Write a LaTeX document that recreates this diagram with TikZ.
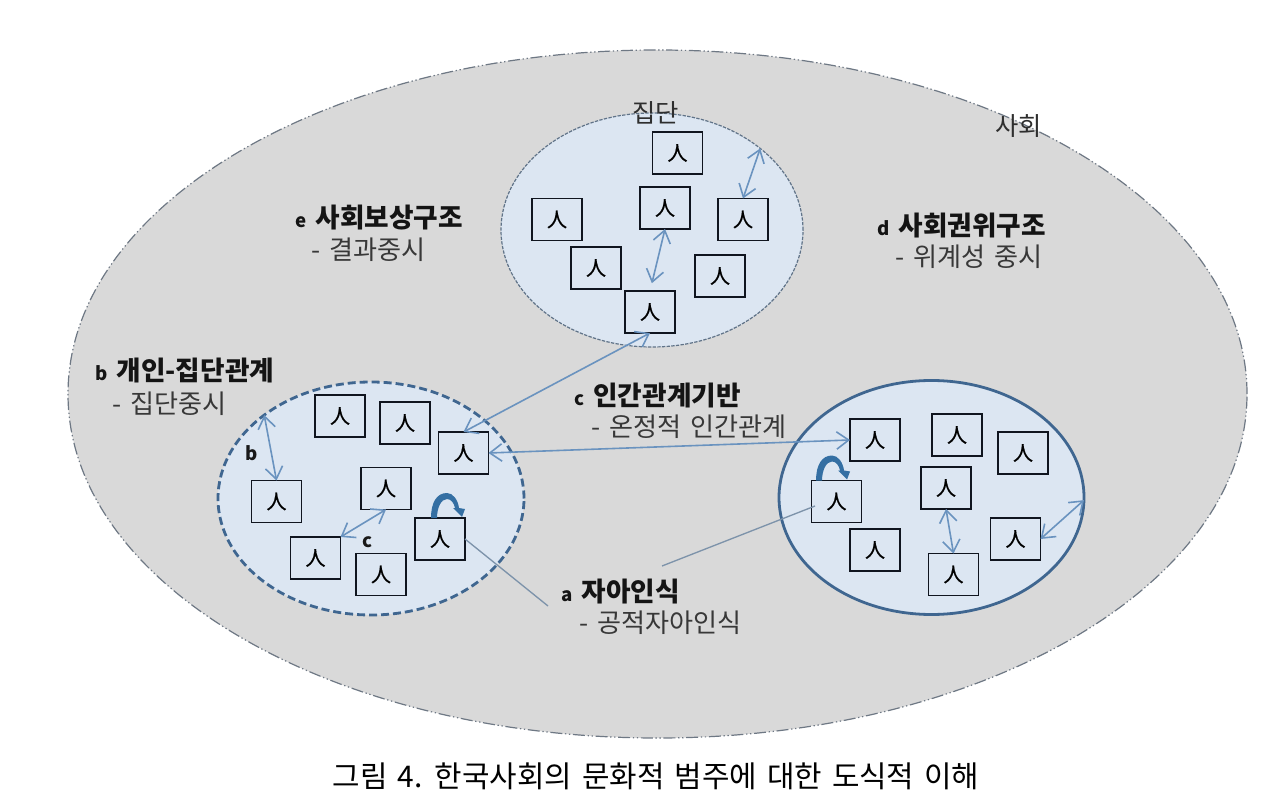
\documentclass[tikz,border=0pt]{standalone}
\usepackage{fontspec}
\setmainfont{Noto Sans CJK KR}[WordSpace=1.5]
\newfontfamily\personfont{Noto Sans CJK KR}[FakeBold=0.7]
\usetikzlibrary{shapes.geometric,arrows.meta}
\definecolor{societyfill}{HTML}{D9D9D9}
\definecolor{societyline}{HTML}{6E7884}
\definecolor{groupfill}{HTML}{DCE6F2}
\definecolor{groupline}{HTML}{3F6690}
\definecolor{linkblue}{HTML}{6A93BF}
\definecolor{leader}{HTML}{7D93AA}
\definecolor{loopblue}{HTML}{346FA3}
\definecolor{boxline}{HTML}{10151F}
\tikzset{
  x=0.75pt,y=-0.75pt,
  society/.style={ellipse,fill=societyfill,draw=societyline,line width=0.9pt,dash pattern=on 9pt off 2pt on 1pt off 2pt on 1pt off 2pt,minimum width=884.25pt,minimum height=516pt,inner sep=0pt,outer sep=0pt},
  group/.style={ellipse,fill=groupfill,inner sep=0pt,outer sep=0pt},
  person/.style={draw=boxline,line width=1.05pt,minimum width=37.5pt,minimum height=31.5pt,inner sep=0pt,outer sep=0pt,font=\personfont\fontsize{15}{15}\selectfont,text=black},
  link/.style={draw=linkblue,line width=1.2pt,{Straight Barb[length=9pt,width=13pt,line width=1.2pt]}-{Straight Barb[length=9pt,width=13pt,line width=1.2pt]}},
  leaderline/.style={draw=leader,line width=1pt},
  head/.style={anchor=base west,inner sep=0pt,text=black!92,font=\fontsize{20}{20}\selectfont\bfseries},
  sub/.style={anchor=base west,inner sep=0pt,text=black!78,font=\fontsize{19.6}{20}\selectfont},
  tag/.style={anchor=base,inner sep=0pt,text=black!82,font=\fontsize{19}{19}\selectfont},
  minor/.style={anchor=base,inner sep=0pt,text=black!90,font=\fontsize{14}{14}\selectfont\bfseries},
}
\newcommand{\pfx}[1]{{\fontsize{14}{14}\selectfont #1}}
\newcommand{\selfmark}{\fill[loopblue] (-9,0) .. controls (-9,-16) and (-3,-25) .. (7,-25) .. controls (13,-25) and (18,-18) .. (19,-10) -- (25,-9) -- (22,-1) -- (13,-10) -- (15,-10) .. controls (14,-15) and (11,-19) .. (7,-19) .. controls (1,-19) and (-3,-10) .. (-3,0) -- cycle;}
\begin{document}
\begin{tikzpicture}
\useasboundingbox (0,0) rectangle (1280,812);
\node[society] (soc) at (657.5,394) {};
% groups
\node[group,draw=societyline!70!groupline,line width=0.9pt,dash pattern=on 2.5pt off 1pt,minimum width=226.5pt,minimum height=175.5pt] (gt) at (652,230) {};
\node[group,draw=groupline,line width=2.1pt,dash pattern=on 6pt off 3pt,minimum width=229.5pt,minimum height=174.75pt] (gl) at (371,498.5) {};
\node[group,draw=groupline,line width=2.1pt,minimum width=228.75pt,minimum height=175.5pt] (gr) at (931.5,497.5) {};
% top group
\node[person] (ta) at (677.5,153) {人};
\node[person] (tb) at (665,208) {人};
\node[person] (tc) at (557,219.5) {人};
\node[person] (td) at (743,219.5) {人};
\node[person] (te) at (596,268) {人};
\node[person] (tf) at (720,276) {人};
\node[person] (tg) at (650,312) {人};
% left group
\node[person] (la) at (340,416) {人};
\node[person] (lb) at (405,423) {人};
\node[person] (lc) at (463.5,453) {人};
\node[person] (ld) at (276.5,501.5) {人};
\node[person] (le) at (386,488.5) {人};
\node[person] (lf) at (315.5,558) {人};
\node[person] (lg) at (381,574.5) {人};
\node[person] (lh) at (440,539) {人};
% right group
\node[person] (ra) at (875,440) {人};
\node[person] (rb) at (957,435) {人};
\node[person] (rc) at (1023,453) {人};
\node[person] (rd) at (836.5,501.5) {人};
\node[person] (re) at (946,488) {人};
\node[person] (rf) at (875,550) {人};
\node[person] (rg) at (1015.5,539) {人};
\node[person] (rh) at (953.5,574.5) {人};
% free ends
\coordinate (aleft) at (548,606);
\coordinate (aright) at (662,566);
% links
\draw[link] (gt.37.5) -- (td.north);
\draw[link,shorten >=6pt] (tb.south) -- (tg.north);
\draw[link] (tg.south) -- (lc.north);
\draw[link] (lc.east) -- (ra.west);
\draw[link] (gl.142.6) -- (ld.north);
\draw[link] (le.south) -- (lf.north east);
\draw[link] (re.south) -- (rh.north);
\draw[link] (rg.east) -- (gr.-1);
% leader lines
\draw[leaderline] (lh.east) -- (aleft);
\draw[leaderline] (aright) -- ([shift={(-21.5,4.5)}]rd.center);
% self loops
\begin{scope}[shift={(lh.north)}]\selfmark\end{scope}
\begin{scope}[shift={([xshift=-8.6pt]rd.north)}]\selfmark\end{scope}
% labels
\node[tag] (lgroup) at (655.5,123) {집단};
\node[tag] (lsoc) at (1018.5,136) {사회};
\node[head] (le1) at (295,228) {\pfx{e} 사회보상구조};
\node[sub] (le2) at (311,260) {- 결과중시};
\node[head] (ld1) at (877,236) {\pfx{d} 사회권위구조};
\node[sub] (ld2) at (895,267) {- 위계성 중시};
\node[head] (lb1) at (95,381) {\pfx{b} 개인-집단관계};
\node[sub] (lb2) at (112,413) {- 집단중시};
\node[head] (lc1) at (574,406) {\pfx{c} 인간관계기반};
\node[sub] (lc2) at (591,436) {- 온정적 인간관계};
\node[head] (la1) at (561,601) {\pfx{a} 자아인식};
\node[sub] (la2) at (579,632) {- 공적자아인식};
\node[minor] (lbb) at (252,460) {b};
\node[minor] (lcc) at (368,547) {c};
\node[anchor=base,inner sep=0pt,text=black,font=\fontsize{22.4}{23}\selectfont] (cap) at (656,787) {그림 4. 한국사회의 문화적 범주에 대한 도식적 이해};
\end{tikzpicture}
\end{document}
